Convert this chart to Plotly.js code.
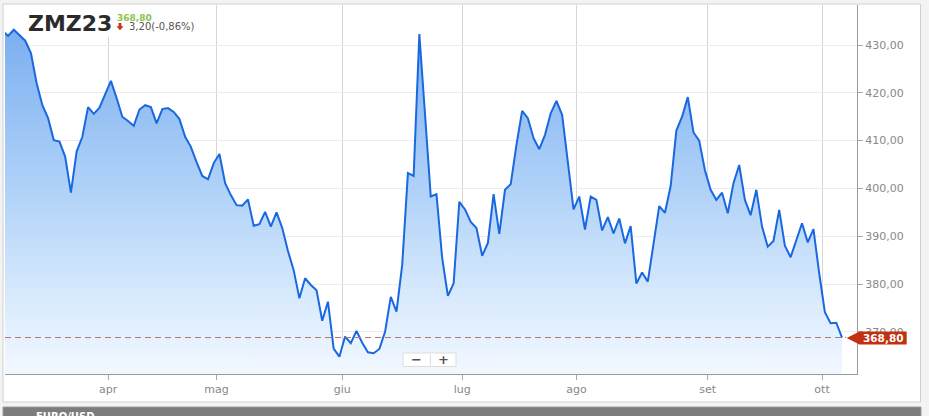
<!DOCTYPE html>
<html><head><meta charset="utf-8">
<script src="https://cdn.plot.ly/plotly-3.0.1.min.js"></script>
<style>html,body{margin:0;padding:0;background:#f3f3f3;} #chart{width:929px;height:416px;}</style>
</head><body><div id="chart"></div>
<script>
// ---- data ----
const symbol = 'ZMZ23';
const lastPrice = 368.80;
const change = -3.20;
const changePct = -0.86;
const firstDate = '2023-03-07';
const holidays = ['2023-04-07','2023-05-29','2023-06-19','2023-07-04','2023-09-04'];
const prices = [
 433.0,431.9,433.2,432.0,430.9,428.3,422.0,417.4,414.7,410.1,
 409.8,406.6,399.1,407.7,410.8,417.0,415.6,416.9,419.7,422.5,
 418.9,415.0,414.1,413.1,416.5,417.4,417.0,413.6,416.6,416.8,
 416.0,414.5,410.8,408.7,405.5,402.6,401.9,405.3,407.2,401.1,
 398.6,396.5,396.4,397.7,392.2,392.5,395.1,392.0,395.0,391.7,
 386.9,382.9,377.0,381.2,379.8,378.7,372.3,376.3,366.5,364.8,
 369.0,367.6,370.2,367.7,365.7,365.5,366.4,370.0,377.3,374.2,
 384.0,403.2,402.6,432.3,415.4,398.3,398.8,385.4,377.5,380.1,
 397.2,395.6,393.0,391.7,385.9,388.6,398.8,390.5,399.7,400.9,
 409.1,416.2,414.7,410.5,408.2,411.2,415.7,418.3,415.4,405.6,
 395.6,398.3,391.4,398.3,397.6,391.2,394.0,390.6,393.7,388.5,
 392.1,380.1,382.4,380.5,388.5,396.3,394.9,400.5,412.1,415.0,
 419.1,411.7,410.0,403.8,399.7,397.6,399.1,394.8,401.1,404.9,
 397.6,394.4,399.7,392.0,387.8,389.0,395.5,388.0,385.6,389.4,
 392.7,388.7,391.5,382.3,374.1,371.8,371.9,368.8
];
const monthTicks = ['2023-04-03','2023-05-01','2023-06-01','2023-07-03','2023-08-01','2023-09-01','2023-10-02'];
const monthLabels = ['apr','mag','giu','lug','ago','set','ott'];
const yTicks = [370,380,390,400,410,420,430];

// ---- trading-day calendar ----
function tradingDays(start, n, hol) {
  const out = [];
  const p = start.split('-').map(Number);
  let d = new Date(Date.UTC(p[0], p[1]-1, p[2]));
  while (out.length < n) {
    const iso = d.toISOString().slice(0,10);
    const wd = d.getUTCDay();
    if (wd !== 0 && wd !== 6 && hol.indexOf(iso) < 0) out.push(iso + ' 12:00');
    d = new Date(d.getTime() + 86400000);
  }
  return out;
}
const dates = tradingDays(firstDate, prices.length, holidays);

// ---- geometry helpers (pixel -> paper) ----
const L=5, R=857, T=5, B=374;
const px = x => (x-L)/(R-L);
const py = y => (B-y)/(B-T);
const path = pts => 'M ' + pts.map(p => px(p[0]) + ',' + py(p[1])).join(' L ') + ' Z';
const it = v => v.toFixed(2).replace('.', ',');

const trace = {
  x: dates, y: prices, type: 'scatter', mode: 'lines',
  line: {color: '#1a68e0', width: 2},
  fill: 'tozeroy',
  fillgradient: {type: 'vertical', start: 361, stop: 434,
    colorscale: [[0,'#f2f8ff'],[0.19,'#dcecfd'],[0.53,'#b0d2f8'],[1,'#7aaef0']]},
  hoverinfo: 'skip'
};

const layout = {
  width: 929, height: 416,
  margin: {l: L, r: 929-R, t: T, b: 416-B},
  paper_bgcolor: '#f3f3f3', plot_bgcolor: '#ffffff',
  separators: ',.',
  font: {family: 'DejaVu Sans', size: 11, color: '#888'},
  showlegend: false,
  xaxis: {
    type: 'date',
    range: ['2023-03-07 23:00', '2023-10-10 03:00'],
    rangebreaks: [{bounds: ['sat','mon']}, {values: holidays}],
    tickmode: 'array', tickvals: monthTicks, ticktext: monthLabels,
    showgrid: true, gridcolor: '#d6d6d6', gridwidth: 1,
    showline: true, linecolor: '#9a9a9a', linewidth: 1,
    ticks: 'outside', ticklen: 5, tickcolor: '#aaa',
    tickfont: {size: 11, color: '#888'}, zeroline: false
  },
  yaxis: {
    side: 'right', range: [361.17, 438.37],
    tickmode: 'array', tickvals: yTicks, tickformat: '.2f',
    showgrid: true, gridcolor: '#ececec', gridwidth: 1,
    showline: true, linecolor: '#9a9a9a', linewidth: 1,
    ticks: 'outside', ticklen: 5, tickcolor: '#aaa',
    tickfont: {size: 11, color: '#888'}, zeroline: false
  },
  shapes: [
    // outer frame
    {type:'rect', xref:'paper', yref:'paper', x0:px(3), x1:px(920.5), y0:py(4), y1:py(402),
     fillcolor:'#ffffff', line:{color:'#d0d0d0', width:1}, layer:'below'},
    // bottom grey bar
    {type:'rect', xref:'paper', yref:'paper', x0:px(3), x1:px(921), y0:py(407), y1:py(422),
     fillcolor:'#7c7c7c', line:{color:'#9a9a9a', width:1}, layer:'above'},
    // title white box
    {type:'rect', xref:'paper', yref:'paper', x0:px(25), x1:px(198), y0:py(5.5), y1:py(37),
     fillcolor:'#ffffff', line:{width:0}, layer:'above'},
    // last price dashed line
    {type:'line', xref:'paper', yref:'y', x0:0, x1:px(846), y0:lastPrice, y1:lastPrice,
     line:{color:'#b07a70', width:1, dash:'6px,4px'}, layer:'above'},
    // price tag
    {type:'path', xref:'paper', yref:'paper',
     path: path([[846.7,338],[859.5,331.5],[906.7,331.5],[906.7,344.5],[859.5,344.5]]),
     fillcolor:'#c2300f', line:{width:0}, layer:'above'},
    // red down arrow
    {type:'path', xref:'paper', yref:'paper',
     path: path([[118.6,23],[121.4,23],[121.4,26.2],[123.6,26.2],[120,30.2],[116.4,26.2],[118.6,26.2]]),
     fillcolor:'#c8321a', line:{width:0}, layer:'above'},
    // zoom buttons box
    {type:'rect', xref:'paper', yref:'paper', x0:px(403), x1:px(456), y0:py(353), y1:py(366.5),
     fillcolor:'#ffffff', line:{color:'#dddddd', width:1}, layer:'above'},
    {type:'line', xref:'paper', yref:'paper', x0:px(430.5), x1:px(430.5), y0:py(354), y1:py(366),
     line:{color:'#dddddd', width:1}, layer:'above'}
  ],
  annotations: [
    {xref:'paper', yref:'paper', x:px(26), y:py(23.5), xanchor:'left', yanchor:'middle',
     text:'<b>' + symbol + '</b>', showarrow:false,
     font:{family:'DejaVu Sans', size:22, color:'#2b2b2b'}},
    {xref:'paper', yref:'paper', x:px(114.5), y:py(17.5), xanchor:'left', yanchor:'middle',
     text:'<b>' + it(lastPrice) + '</b>', showarrow:false,
     font:{family:'DejaVu Sans', size:9, color:'#8cc34b'}},
    {xref:'paper', yref:'paper', x:px(127), y:py(26.8), xanchor:'left', yanchor:'middle',
     text: it(Math.abs(change)) + '(' + it(changePct) + '%)', showarrow:false,
     font:{family:'DejaVu Sans', size:10, color:'#555'}},
    {xref:'paper', yref:'paper', x:px(883), y:py(338.3), xanchor:'center', yanchor:'middle',
     text:'<b>' + it(lastPrice) + '</b>', showarrow:false,
     font:{family:'DejaVu Sans', size:10.5, color:'#ffffff'}},
    {xref:'paper', yref:'paper', x:px(416.5), y:py(359.5), xanchor:'center', yanchor:'middle',
     text:'<b>−</b>', showarrow:false, font:{family:'DejaVu Sans', size:13, color:'#555'}},
    {xref:'paper', yref:'paper', x:px(443), y:py(359.5), xanchor:'center', yanchor:'middle',
     text:'<b>+</b>', showarrow:false, font:{family:'DejaVu Sans', size:13, color:'#555'}},
    {xref:'paper', yref:'paper', x:px(34), y:py(409.5), xanchor:'left', yanchor:'top',
     text:'<b>EURO/USD</b>', showarrow:false, font:{family:'DejaVu Sans', size:10, color:'#ffffff'}}
  ]
};

Plotly.newPlot('chart', [trace], layout, {staticPlot: true, displayModeBar: false});
</script>
</body></html>
